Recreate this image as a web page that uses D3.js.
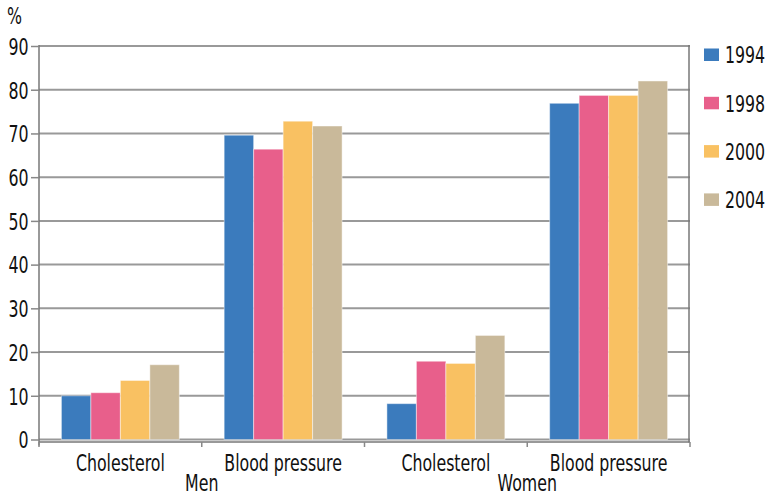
<!DOCTYPE html>
<html>
<head>
<meta charset="utf-8">
<script src="https://cdn.jsdelivr.net/npm/d3@7"></script>
<style>
  html, body { margin: 0; padding: 0; background: #fff; }
  svg { display: block; }
  text { font-family: "DejaVu Sans Condensed", "Liberation Sans Narrow", "Open Sans", sans-serif; fill: #111; }
</style>
</head>
<body>
<svg id="chart" width="767" height="496"></svg>
<script>
// Share of people (%) by sex, measure and survey year
const groups = ["Men", "Women"];
const measures = ["Cholesterol", "Blood pressure"];
const years = ["1994", "1998", "2000", "2004"];
const menValues = [
  [10.0, 10.7, 13.5, 17.1],   // Cholesterol
  [69.6, 66.4, 72.8, 71.7]    // Blood pressure
];
const womenValues = [
  [8.2, 17.9, 17.4, 23.8],
  [76.9, 78.7, 78.7, 82.0]
];
const yTicks = [0, 10, 20, 30, 40, 50, 60, 70, 80, 90];
const colors = ["#3b7bbd", "#e85f8b", "#f9c162", "#c9b99a"];

const valuesByGroup = { Men: menValues, Women: womenValues };
const categories = [];
groups.forEach(g => measures.forEach((m, i) => {
  categories.push({ key: g + "|" + m, group: g, measure: m, values: valuesByGroup[g][i] });
}));

const svg = d3.select("#chart");
const plotLeft = 39, plotRight = 690, plotTop = 46, plotBottom = 439.5;
const squeeze = 0.78;   // horizontal squeeze giving a narrow typeface
const fontSize = 22.5;

// places a text at (x, y) with the narrow horizontal squeeze applied
function narrowText(sel, fx, fy) {
  return sel.attr("transform", (d, i) => `translate(${fx(d, i)},${fy(d, i)}) scale(${squeeze},1)`)
    .attr("font-size", fontSize);
}

const x0 = d3.scaleBand().domain(categories.map(c => c.key)).range([plotLeft, plotRight]).padding(0);
const x1 = d3.scaleBand().domain(years).range([0, x0.bandwidth()]).paddingInner(0).paddingOuter(0.76);
const y = d3.scaleLinear().domain([0, 90]).range([plotBottom, plotTop]);

// horizontal gridlines
svg.append("g").selectAll("line").data(yTicks).join("line")
  .attr("x1", plotLeft).attr("x2", plotRight)
  .attr("y1", d => y(d)).attr("y2", d => y(d))
  .attr("stroke", "#999").attr("stroke-width", 2);

// right frame line
svg.append("line").attr("x1", plotRight - 1).attr("x2", plotRight - 1).attr("y1", plotTop - 1).attr("y2", plotBottom + 3)
  .attr("stroke", "#777").attr("stroke-width", 1.5);

// bars
const cat = svg.append("g").selectAll("g").data(categories).join("g")
  .attr("transform", d => `translate(${x0(d.key)},0)`);
cat.selectAll("rect").data(d => d.values.map((v, i) => ({ year: years[i], value: v, i })))
  .join("rect")
  .attr("x", d => x1(d.year))
  .attr("width", x1.bandwidth())
  .attr("y", d => y(d.value))
  .attr("height", d => y(0) - y(d.value))
  .attr("fill", d => colors[d.i])
  .attr("stroke", "rgba(255,255,255,0.45)")
  .attr("stroke-width", 1);

// y axis
const yAxis = d3.axisLeft(y).tickValues(yTicks).tickSize(8).tickPadding(3);
const ya = svg.append("g").attr("transform", `translate(${plotLeft},0)`).call(yAxis);
ya.select(".domain").attr("d", `M0,${plotTop - 1}V${plotBottom + 6}`).attr("stroke", "#777").attr("stroke-width", 1.5);
ya.selectAll(".tick line").attr("stroke", "#888").attr("stroke-width", 1.5);
ya.selectAll(".tick text")
  .attr("font-family", null).attr("fill", "#111")
  .attr("x", null).attr("dy", null)
  .attr("dominant-baseline", "central")
  .call(narrowText, () => -10.5, () => 0.5);

// x axis: line with ticks on the category boundaries
const xa = svg.append("g").attr("transform", `translate(0,${plotBottom + 2.5})`);
xa.append("line").attr("x1", plotLeft).attr("x2", plotRight).attr("stroke", "#777").attr("stroke-width", 1.5);
const bounds = categories.map(c => x0(c.key)).concat([plotRight]);
xa.selectAll("line.tick").data(bounds).join("line").attr("class", "tick")
  .attr("x1", d => d).attr("x2", d => d).attr("y1", 0).attr("y2", 5)
  .attr("stroke", "#888").attr("stroke-width", 1.5);

// measure labels
svg.append("g").selectAll("text").data(categories).join("text")
  .attr("text-anchor", "middle")
  .text(d => d.measure)
  .call(narrowText, d => x0(d.key) + x0.bandwidth() / 2, () => 470.5);

// group labels centred under each pair
svg.append("g").selectAll("text").data(groups).join("text")
  .attr("text-anchor", "middle")
  .text(g => g)
  .call(narrowText, g => x0(g + "|" + measures[1]), () => 490.5);

// unit label
svg.append("text").text("%").call(narrowText, () => 7, () => 24);

// legend
const lg = svg.append("g").selectAll("g").data(years).join("g")
  .attr("transform", (d, i) => `translate(704,${54.5 + i * 48.3})`);
lg.append("rect").attr("x", 0).attr("y", -6).attr("width", 15).attr("height", 12.5)
  .attr("fill", (d, i) => colors[i]);
lg.append("text").attr("dominant-baseline", "central")
  .text(d => d)
  .call(narrowText, () => 21, () => 1);
</script>
</body>
</html>
